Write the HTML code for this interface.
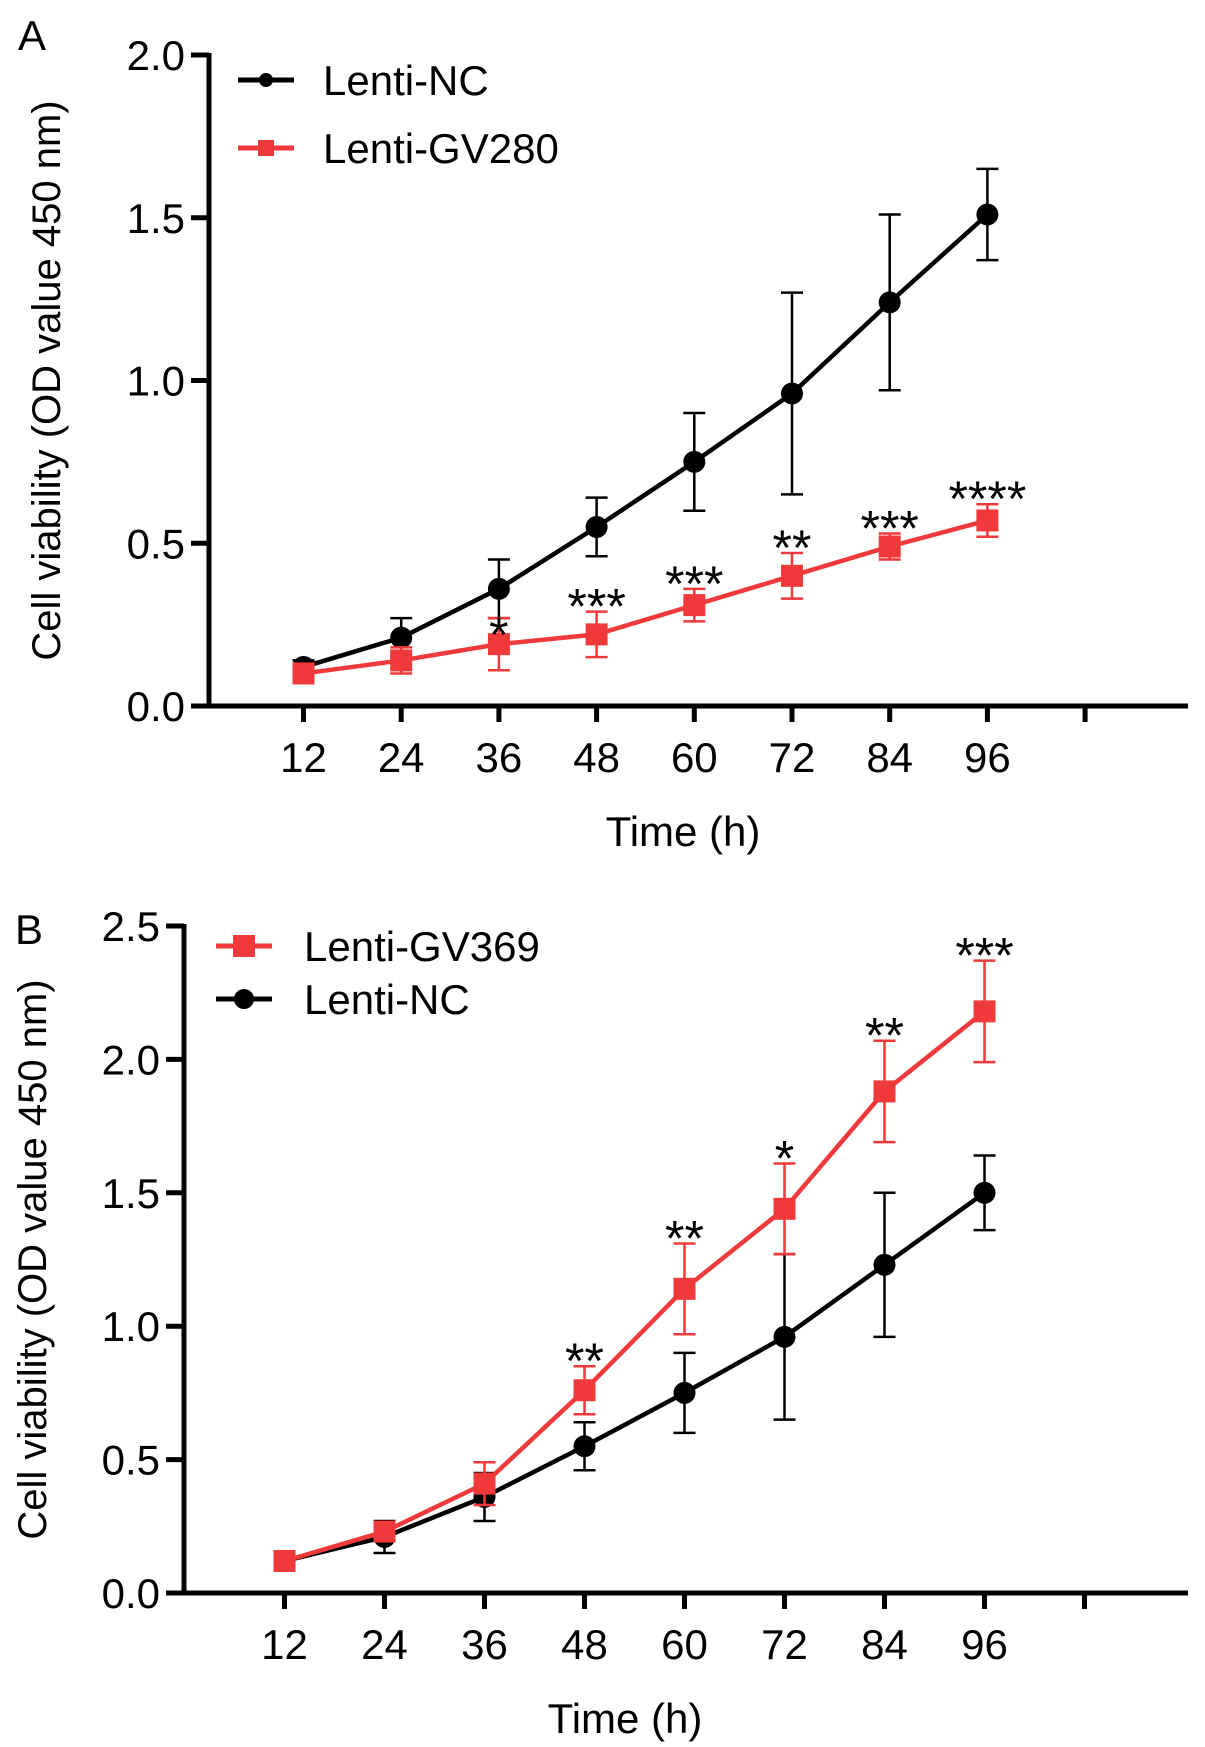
<!DOCTYPE html>
<html><head><meta charset="utf-8"><style>
html,body{margin:0;padding:0;background:#fff;}
svg{display:block;font-family:"Liberation Sans",sans-serif;}
</style></head><body>
<svg id="fig" width="1205" height="1747" viewBox="0 0 1205 1747"></svg>
<script>
const hours = [12,24,36,48,60,72,84,96];
const aNC = [0.12,0.21,0.36,0.55,0.75,0.96,1.24,1.51];
const aNCErr = [0.02,0.06,0.09,0.09,0.15,0.31,0.27,0.14];
const aGV = [0.10,0.14,0.19,0.22,0.31,0.40,0.49,0.57];
const aGVErr = [0.02,0.04,0.08,0.07,0.05,0.07,0.04,0.05];
const aStars = ["","","*","***","***","**","***","****"];
const aTicks = [0,0.5,1.0,1.5,2.0];
const bGV = [0.12,0.23,0.41,0.76,1.14,1.44,1.88,2.18];
const bGVErr = [0.02,0.03,0.08,0.09,0.17,0.17,0.19,0.19];
const bNC = [0.12,0.21,0.36,0.55,0.75,0.96,1.23,1.50];
const bNCErr = [0.02,0.06,0.09,0.09,0.15,0.31,0.27,0.14];
const bStars = ["","","","**","**","*","**","***"];
const bTicks = [0,0.5,1.0,1.5,2.0,2.5];

const svg = document.getElementById('fig');
const NS = 'http://www.w3.org/2000/svg';
function mk(tag, attrs, parent, text){
  const e = document.createElementNS(NS, tag);
  for (const k in attrs) e.setAttribute(k, attrs[k]);
  if (text !== undefined) e.textContent = text;
  parent.appendChild(e); return e;
}
function chart(c){
  const g = mk('g', {}, svg);
  
  
  const X = h => c.x12 + (h-12)/12*c.dx;
  const Y = v => c.y0 - v/c.ymax*(c.y0-c.ytop);
  const pl = mk('text', {x:c.lx, y:c.ly, 'font-size':42}, g, c.label);
  
  
  const ya = mk('line', {x1:c.ax, y1:c.ytop-2, x2:c.ax, y2:c.y0+2, stroke:'#000','stroke-width':5}, g);
  
  
  const xa = mk('line', {x1:c.ax-2, y1:c.y0, x2:1188, y2:c.y0, stroke:'#000','stroke-width':5}, g);
  
  
  c.ticks.forEach(t=>{
    mk('line', {x1:c.ax-18, y1:Y(t), x2:c.ax, y2:Y(t), stroke:'#000','stroke-width':5}, g);
    const tl = mk('text', {x:c.ax-24, y:Y(t)+15, 'font-size':42, 'text-anchor':'end'}, g, t.toFixed(1));
    
    
  });
  hours.concat([108]).forEach(h=>{
    mk('line', {x1:X(h), y1:c.y0, x2:X(h), y2:c.y0+16, stroke:'#000','stroke-width':5}, g);
    if (h<=96){
      const tl = mk('text', {x:X(h), y:c.y0+66, 'font-size':42, 'text-anchor':'middle'}, g, String(h));
      
      
    }
  });
  const xt = mk('text', {x:c.xtx, y:c.y0+140, 'font-size':42, 'text-anchor':'middle'}, g, 'Time (h)');
  
  
  const yt = mk('text', {x:0, y:0, 'font-size':40, 'text-anchor':'middle', transform:`translate(${c.ytx},${(c.ytop+c.y0)/2}) rotate(-90)`}, g, 'Cell viability (OD value 450 nm)');
  
  
  c.series.forEach(s=>{
    const sg = mk('g', {}, g);
    
    
    const col = s.color;
    s.vals.forEach((v,i)=>{
      const x = X(hours[i]);
      const e = s.err[i];
      mk('line', {x1:x, y1:Y(v+e), x2:x, y2:Y(v-e), stroke:col,'stroke-width':2.5}, sg);
      mk('line', {x1:x-11, y1:Y(v+e), x2:x+11, y2:Y(v+e), stroke:col,'stroke-width':2.5}, sg);
      mk('line', {x1:x-11, y1:Y(v-e), x2:x+11, y2:Y(v-e), stroke:col,'stroke-width':2.5}, sg);
    });
    const pts = s.vals.map((v,i)=>X(hours[i])+','+Y(v)).join(' ');
    const ln = mk('polyline', {points:pts, fill:'none', stroke:col, 'stroke-width':4.5}, sg);
    
    
    s.vals.forEach((v,i)=>{
      const x = X(hours[i]), y = Y(v);
      let m;
      if (s.square) m = mk('rect', {x:x-11, y:y-11, width:22, height:22, fill:col}, sg);
      else m = mk('circle', {cx:x, cy:y, r:11, fill:col}, sg);
      
      
    });
  });
  const sv = c.starSeries;
  c.stars.forEach((st,i)=>{
    if (!st) return;
    const t = mk('text', {x:X(hours[i]), y:Y(sv.vals[i]+sv.err[i])+12+ (i===2&&c.label==='A'?22:0), 'font-size':50, 'text-anchor':'middle'}, g, st);
    
    
  });
  c.legend.forEach((L,k)=>{
    const lg = mk('g', {}, g);
    
    
    const y = c.legY + k*c.legDy;
    mk('line', {x1:c.legX, y1:y, x2:c.legX+56, y2:y, stroke:L.color, 'stroke-width':5}, lg);
    if (L.square) mk('rect', {x:c.legX+28-L.sz, y:y-L.sz, width:2*L.sz, height:2*L.sz, fill:L.color}, lg);
    else mk('circle', {cx:c.legX+28, cy:y, r:L.sz, fill:L.color}, lg);
    mk('text', {x:c.legX+c.legTx, y:y+15, 'font-size':42}, lg, L.text);
  });
}
const RED = '#f0393a';
const sA = {name:'lenti-gv280-series', vals:aGV, err:aGVErr, color:RED, square:true};
chart({name:'chart-a', label:'A', lx:18, ly:50, ax:209, ytop:55, y0:706, ymax:2.0, ticks:aTicks,
  x12:303.5, dx:97.7, xtx:683, ytx:60,
  series:[{name:'lenti-nc-series', vals:aNC, err:aNCErr, color:'#000', square:false}, sA],
  stars:aStars, starSeries:sA,
  legend:[{text:'Lenti-NC', color:'#000', square:false, sz:7},{text:'Lenti-GV280', color:RED, square:true, sz:8}],
  legX:238, legY:80, legDy:68, legTx:85});
const sB = {name:'lenti-gv369-series', vals:bGV, err:bGVErr, color:RED, square:true};
chart({name:'chart-b', label:'B', lx:15, ly:944, ax:184, ytop:926, y0:1593, ymax:2.5, ticks:bTicks,
  x12:284.5, dx:100, xtx:625, ytx:46,
  series:[{name:'lenti-nc-series-b', vals:bNC, err:bNCErr, color:'#000', square:false}, sB],
  stars:bStars, starSeries:sB,
  legend:[{text:'Lenti-GV369', color:RED, square:true, sz:11},{text:'Lenti-NC', color:'#000', square:false, sz:10}],
  legX:216, legY:946, legDy:53, legTx:88});
</script>
</body></html>
